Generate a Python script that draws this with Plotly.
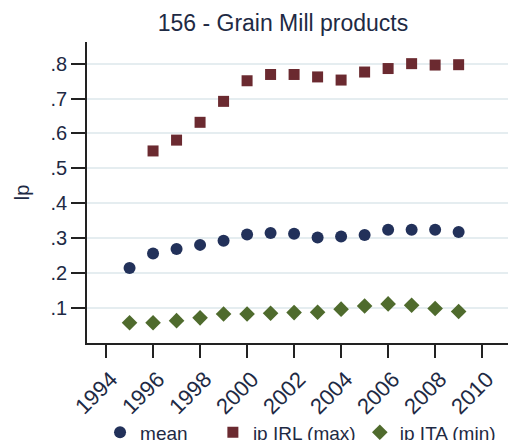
import plotly.graph_objects as go

years = list(range(1995, 2010))
mean_lp = [0.215, 0.256, 0.269, 0.281, 0.293, 0.311, 0.315, 0.313, 0.302, 0.305,
           0.309, 0.324, 0.324, 0.324, 0.318]
irl_years = list(range(1996, 2010))
irl_max = [0.550, 0.581, 0.632, 0.692, 0.751, 0.769, 0.769, 0.762, 0.753, 0.776,
           0.786, 0.800, 0.796, 0.797]
ita_min = [0.058, 0.058, 0.064, 0.072, 0.083, 0.083, 0.085, 0.087, 0.088, 0.097,
           0.106, 0.112, 0.108, 0.099, 0.090]

y_ticks = [0.1, 0.2, 0.3, 0.4, 0.5, 0.6, 0.7, 0.8]
y_labels = [".1", ".2", ".3", ".4", ".5", ".6", ".7", ".8"]
x_ticks = list(range(1994, 2011, 2))

navy = "#22315a"
maroon = "#6b2a30"
green = "#4f6b2d"
txt = "#1e2a44"

fig = go.Figure()
fig.add_trace(go.Scatter(x=years, y=mean_lp, mode="markers", name="mean",
                         marker=dict(symbol="circle", size=12, color=navy),
                         legend="legend", showlegend=True))
fig.add_trace(go.Scatter(x=irl_years, y=irl_max, mode="markers", name="ip IRL (max)",
                         marker=dict(symbol="square", size=11, color=maroon),
                         legend="legend2", showlegend=True))
fig.add_trace(go.Scatter(x=years, y=ita_min, mode="markers", name="ip ITA (min)",
                         marker=dict(symbol="diamond", size=12, color=green),
                         legend="legend3", showlegend=True))

leg = dict(orientation="h", yanchor="middle", y=-0.297, xanchor="left",
           font=dict(size=19, color=txt), bgcolor="rgba(0,0,0,0)")
fig.update_layout(
    width=508, height=440,
    margin=dict(l=87, r=0, t=42, b=97, autoexpand=False),
    paper_bgcolor="white", plot_bgcolor="white",
    showlegend=True,
    font=dict(family="Liberation Sans, Arial, sans-serif", color=txt),
    title=dict(text="156 - Grain Mill products", x=0.557, xanchor="center",
               y=0.948, yanchor="middle", font=dict(size=23, color=txt)),
    legend=dict(leg, x=0.031),
    legend2=dict(leg, x=0.299),
    legend3=dict(leg, x=0.648),
)
fig.update_xaxes(range=[1993.19, 2011.1], tickvals=x_ticks, tickangle=-45,
                 automargin=False, ticklabelshift=5,
                 showgrid=False, zeroline=False, showline=True, linecolor="#222",
                 linewidth=1.5, ticks="outside", ticklen=13, tickcolor="#222",
                 tickwidth=1.5, tickfont=dict(size=22, color=txt))
fig.update_yaxes(range=[0, 0.862], tickvals=y_ticks, ticktext=y_labels,
                 automargin=False,
                 showgrid=True, gridcolor="#e5edf0", gridwidth=2, zeroline=False,
                 showline=True, linecolor="#222", linewidth=1.5, ticks="outside",
                 ticklen=14, tickcolor="#222", tickwidth=1.5,
                 tickfont=dict(size=20, color=txt),
                 title=dict(text="lp", font=dict(size=20, color=txt), standoff=16))

# the page body has a default 8px margin; drop it so the figure sits at 0,0
fig.write_html("out.html", config={"displayModeBar": False},
               post_script="document.body.style.margin='0';")
